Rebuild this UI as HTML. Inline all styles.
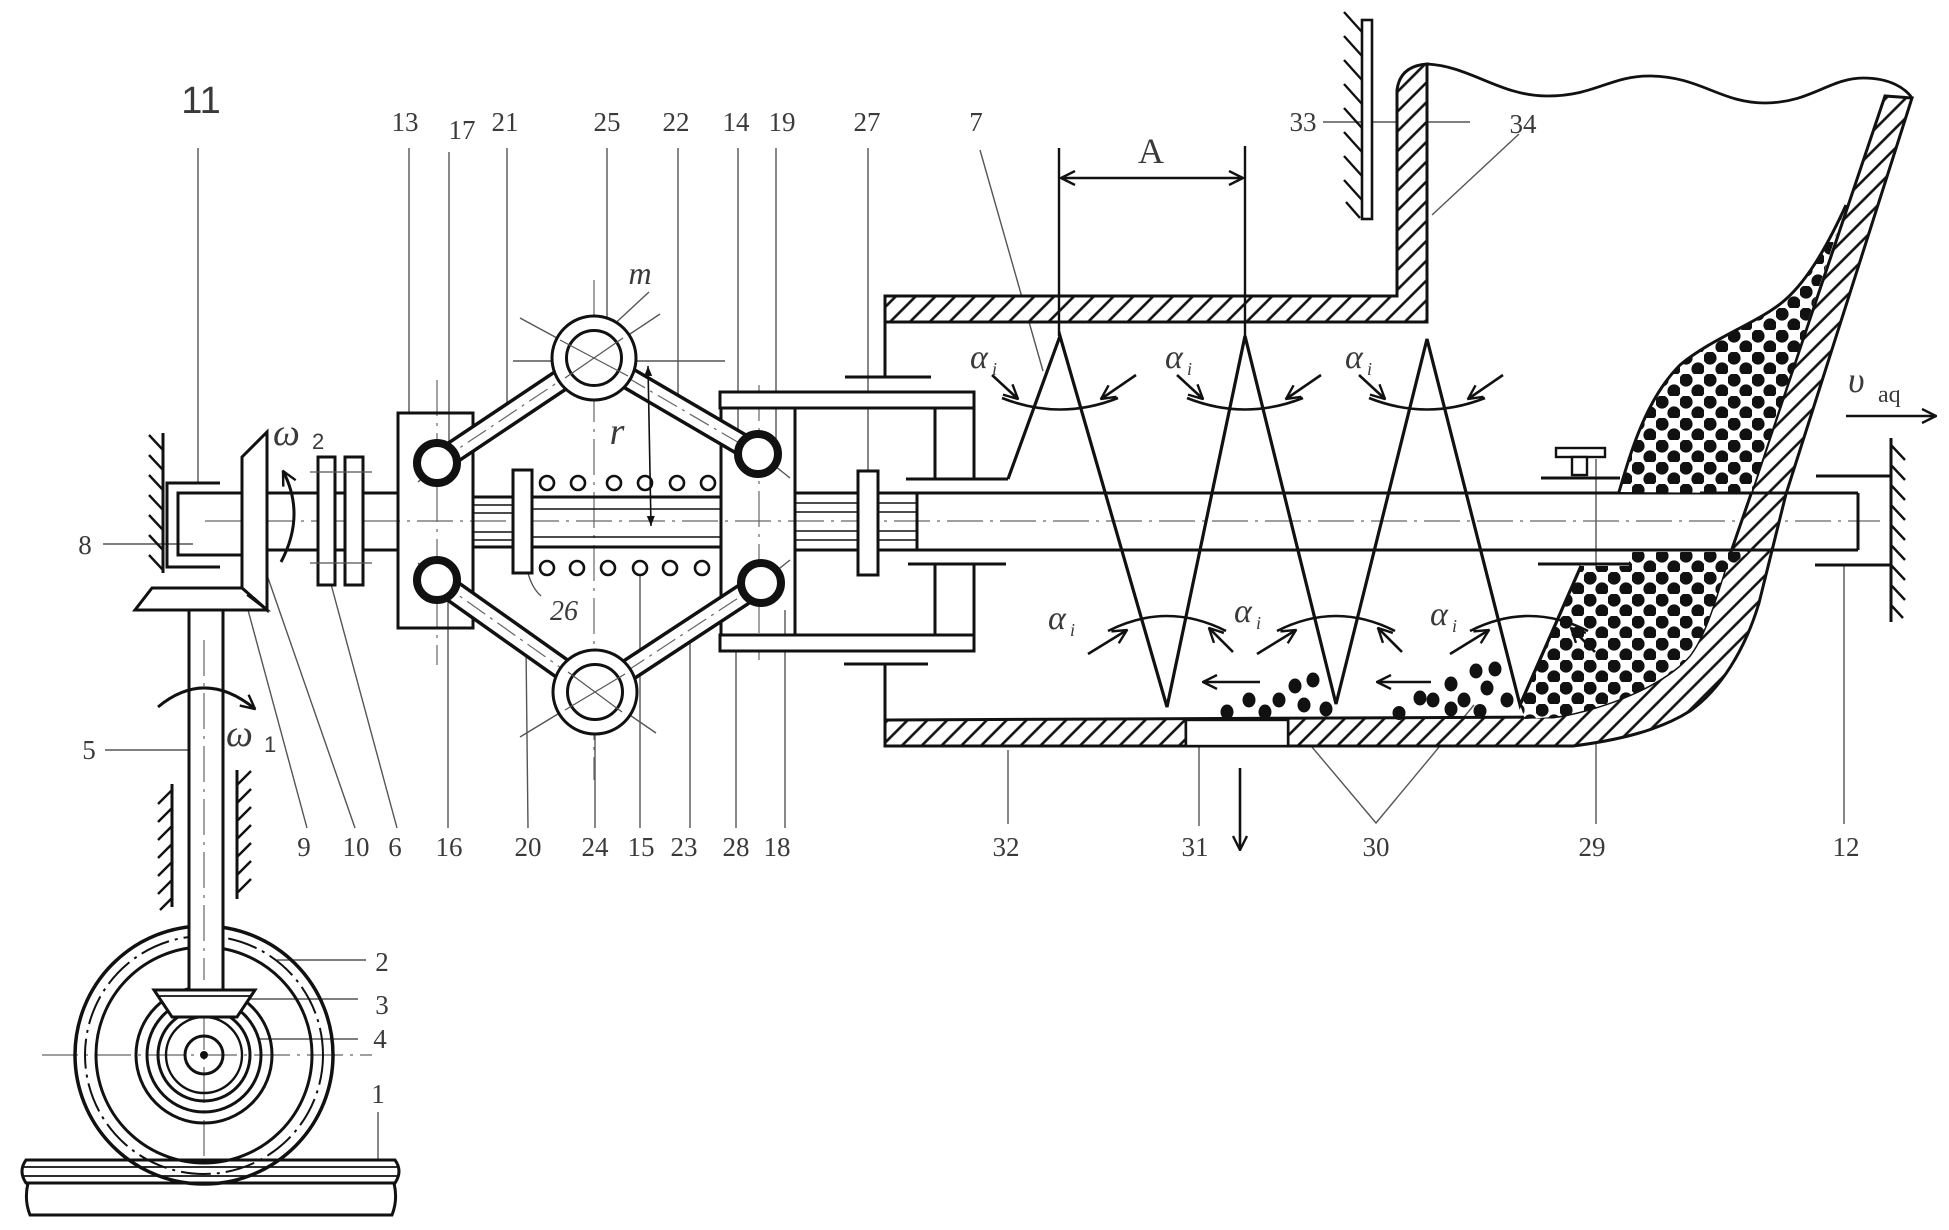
<!DOCTYPE html>
<html><head><meta charset="utf-8"><style>
html,body{margin:0;padding:0;background:#fff;}
svg{display:block;}
text{font-family:"Liberation Serif",serif;fill:#3a3a3a;}
</style></head><body>
<svg width="1949" height="1230" viewBox="0 0 1949 1230" xmlns="http://www.w3.org/2000/svg">
<defs>
<pattern id="h" patternUnits="userSpaceOnUse" width="14" height="14" patternTransform="rotate(45)"><rect width="14" height="14" fill="#fff"/><line x1="3" y1="-2" x2="3" y2="16" stroke="#111" stroke-width="2.6"/></pattern>
<pattern id="d" patternUnits="userSpaceOnUse" width="24" height="22"><rect width="24" height="22" fill="#fff"/><circle cx="6" cy="6" r="6.6" fill="#111"/><circle cx="18" cy="17" r="6.6" fill="#111"/></pattern>
<marker id="a" viewBox="0 0 16 16" refX="15" refY="8" markerWidth="16" markerHeight="16" markerUnits="userSpaceOnUse" orient="auto-start-reverse"><path d="M1,1 L15,8 L1,15" fill="none" stroke="#111" stroke-width="2.4"/></marker>
<marker id="s" viewBox="0 0 12 12" refX="11" refY="6" markerWidth="12" markerHeight="12" markerUnits="userSpaceOnUse" orient="auto-start-reverse"><path d="M1,2 L11,6 L1,10 Z" fill="#111"/></marker>
</defs>

<!-- thin leaders -->
<g stroke="#555" stroke-width="1.4" fill="none">
<line x1="198" y1="148" x2="198" y2="483"/>
<line x1="409" y1="148" x2="409" y2="413"/>
<line x1="449" y1="152" x2="449" y2="455"/>
<line x1="507" y1="148" x2="507" y2="420"/>
<line x1="607" y1="148" x2="607" y2="318"/>
<line x1="678" y1="148" x2="678" y2="413"/>
<line x1="738" y1="148" x2="738" y2="440"/>
<line x1="776" y1="148" x2="776" y2="460"/>
<line x1="868" y1="148" x2="868" y2="473"/>
<line x1="980" y1="150" x2="1043" y2="371"/>
<line x1="1323" y1="122" x2="1470" y2="122"/>
<line x1="1519" y1="134" x2="1432" y2="215"/>
<line x1="103" y1="544" x2="193" y2="544"/>
<line x1="105" y1="750" x2="196" y2="750"/>
<line x1="277" y1="960" x2="366" y2="960"/>
<line x1="221" y1="999" x2="358" y2="999"/>
<line x1="259" y1="1039" x2="358" y2="1039"/>
<line x1="378" y1="1112" x2="378" y2="1171"/>
<line x1="307" y1="828" x2="248" y2="610"/>
<line x1="355" y1="828" x2="267" y2="575"/>
<line x1="397" y1="828" x2="325" y2="562"/>
<line x1="448" y1="828" x2="448" y2="582"/>
<line x1="528" y1="828" x2="526" y2="646"/>
<line x1="595" y1="828" x2="595" y2="709"/>
<line x1="640" y1="828" x2="640" y2="575"/>
<line x1="690" y1="828" x2="690" y2="636"/>
<line x1="736" y1="828" x2="736" y2="651"/>
<line x1="785" y1="828" x2="785" y2="610"/>
<line x1="1008" y1="750" x2="1008" y2="824"/>
<line x1="1199" y1="736" x2="1199" y2="826"/>
<polyline points="1301,734 1376,823 1474,705"/>
<line x1="1596" y1="459" x2="1596" y2="824"/>
<line x1="1844" y1="565" x2="1844" y2="824"/>
<line x1="649" y1="292" x2="608" y2="330"/>
<path d="M528,573 Q532,588 541,596"/>
<line x1="520" y1="318" x2="668" y2="398"/>
<line x1="528" y1="402" x2="660" y2="314"/>
<line x1="513" y1="361" x2="725" y2="361"/>
<line x1="520" y1="737" x2="670" y2="646"/>
<line x1="535" y1="650" x2="656" y2="733"/>
<line x1="418" y1="482" x2="458" y2="446"/>
<line x1="418" y1="563" x2="458" y2="600"/>
<line x1="740" y1="438" x2="790" y2="478"/>
<line x1="740" y1="600" x2="790" y2="560"/>
</g>

<!-- centerlines -->
<g stroke="#666" stroke-width="1.2" fill="none" stroke-dasharray="36 7 3 7">
<line x1="205" y1="521" x2="1880" y2="521"/>
<line x1="204" y1="590" x2="204" y2="1185"/>
<line x1="42" y1="1055" x2="372" y2="1055"/>
<line x1="437" y1="380" x2="437" y2="665"/>
<line x1="759" y1="385" x2="759" y2="660"/>
<line x1="594" y1="280" x2="594" y2="780"/>
</g>

<g stroke="#111" stroke-width="3" fill="none" stroke-linejoin="miter">
<!-- rail -->
<path d="M26,1160 L395,1160 Q403,1171 395,1183 L26,1183 Q18,1171 26,1160 Z" fill="#fff"/>
<line x1="24" y1="1167" x2="397" y2="1167" stroke-width="1.8"/>
<line x1="24" y1="1176" x2="397" y2="1176" stroke-width="1.8"/>
<path d="M28,1183 Q24,1200 30,1215 L392,1215 Q398,1200 394,1183"/>

<!-- wheel -->
<circle cx="204" cy="1055" r="129" stroke-width="3.5"/>
<circle cx="204" cy="1055" r="119" stroke-width="2" stroke-dasharray="30 6 3 6"/>
<circle cx="204" cy="1055" r="108"/>
<circle cx="204" cy="1055" r="68"/>
<circle cx="204" cy="1055" r="57"/>
<circle cx="204" cy="1055" r="46"/>
<circle cx="204" cy="1055" r="38" stroke-width="2.4"/>
<circle cx="204" cy="1055" r="19"/>
<circle cx="204" cy="1055" r="2.5" fill="#111"/>

<!-- shaft 5 -->
<rect x="189" y="608" width="34" height="382" fill="#fff" stroke="none"/>
<line x1="189" y1="610" x2="189" y2="990"/>
<line x1="223" y1="610" x2="223" y2="990"/>
<line x1="204" y1="640" x2="204" y2="980" stroke="#666" stroke-width="1.2" stroke-dasharray="36 7 3 7"/>
<polygon points="154,990 255,990 237,1017 172,1017" fill="#fff"/>
<line x1="157" y1="996" x2="252" y2="996" stroke-width="1.8"/>

<!-- supports of shaft 5 -->
<line x1="172" y1="784" x2="172" y2="907"/>
<line x1="237" y1="770" x2="237" y2="899"/>
<path d="M172,790 l-14,14 M172,808 l-14,14 M172,826 l-14,14 M172,844 l-14,14 M172,862 l-14,14 M172,880 l-14,14 M172,898 l-12,12" stroke-width="2.4"/>
<path d="M237,785 l14,-14 M237,803 l14,-14 M237,821 l14,-14 M237,839 l14,-14 M237,857 l14,-14 M237,875 l14,-14 M237,893 l14,-14" stroke-width="2.4"/>

<!-- ω1 arrow -->
<path d="M158,707 Q205,668 255,709" marker-end="url(#a)"/>

<!-- wall 8 -->
<line x1="163" y1="433" x2="163" y2="573"/>
<path d="M149,435 l14,15 M149,455 l14,15 M149,475 l14,15 M149,495 l14,15 M149,515 l14,15 M149,535 l14,15 M149,555 l14,15" stroke-width="2.4"/>
<polyline points="220,483 167,483 167,567 220,567"/>
<polyline points="242,493 178,493 178,555 242,555"/>

<!-- gears -->
<polygon points="242,457 267,432 267,610 242,588" fill="#fff"/>
<polygon points="152,588 242,588 267,610 135,610" fill="#fff"/>
<line x1="247" y1="595" x2="264" y2="608" stroke-width="2"/>

<!-- shaft to block 13 -->
<line x1="267" y1="493" x2="398" y2="493"/>
<line x1="267" y1="550" x2="398" y2="550"/>
<path d="M281,562 Q306,515 283,471" marker-end="url(#a)"/>
<!-- coupling 6 -->
<rect x="318" y="457" width="17" height="128" fill="#fff"/>
<rect x="345" y="457" width="18" height="128" fill="#fff"/>
<line x1="310" y1="472" x2="372" y2="472" stroke="#555" stroke-width="1.3"/>
<line x1="310" y1="563" x2="372" y2="563" stroke="#555" stroke-width="1.3"/>

<!-- block 13 -->
<rect x="398" y="413" width="75" height="215"/>
<!-- rod -->
<line x1="473" y1="497" x2="721" y2="497"/>
<line x1="473" y1="547" x2="721" y2="547"/>
<g stroke-width="1.6">
<line x1="473" y1="505" x2="513" y2="505"/>
<line x1="473" y1="513" x2="513" y2="513"/>
<line x1="473" y1="532" x2="513" y2="532"/>
<line x1="473" y1="540" x2="513" y2="540"/>
<line x1="532" y1="509" x2="721" y2="509"/>
<line x1="532" y1="537" x2="721" y2="537"/>
</g>
<rect x="513" y="470" width="19" height="103" fill="#fff"/>
<!-- springs -->
<g stroke-width="2.6" fill="#fff">
<circle cx="547" cy="483" r="7"/><circle cx="578" cy="483" r="7"/><circle cx="614" cy="483" r="7"/><circle cx="645" cy="483" r="7"/><circle cx="677" cy="483" r="7"/><circle cx="708" cy="483" r="7"/>
<circle cx="547" cy="568" r="7"/><circle cx="577" cy="568" r="7"/><circle cx="608" cy="568" r="7"/><circle cx="640" cy="568" r="7"/><circle cx="670" cy="568" r="7"/><circle cx="702" cy="568" r="7"/>
</g>

<!-- block 14 & sleeve -->
<rect x="721" y="408" width="74" height="227"/>
<rect x="720" y="392" width="254" height="16" fill="#fff"/>
<rect x="720" y="635" width="254" height="16" fill="#fff"/>
<line x1="935" y1="408" x2="935" y2="479"/>
<line x1="974" y1="408" x2="974" y2="479"/>
<line x1="935" y1="564" x2="935" y2="635"/>
<line x1="974" y1="564" x2="974" y2="635"/>
<line x1="906" y1="479" x2="1008" y2="479"/>
<line x1="908" y1="564" x2="1006" y2="564"/>
<line x1="845" y1="377" x2="931" y2="377"/>
<line x1="844" y1="664" x2="928" y2="664"/>
<line x1="885" y1="296" x2="885" y2="377"/>
<line x1="885" y1="664" x2="885" y2="746"/>

<!-- main shaft -->
<line x1="795" y1="493" x2="1858" y2="493"/>
<line x1="795" y1="550" x2="1858" y2="550"/>
<line x1="917" y1="493" x2="917" y2="550"/>
<line x1="1858" y1="493" x2="1858" y2="550"/>
<g stroke-width="1.5">
<line x1="795" y1="503" x2="917" y2="503"/>
<line x1="795" y1="512" x2="917" y2="512"/>
<line x1="795" y1="531" x2="917" y2="531"/>
<line x1="795" y1="540" x2="917" y2="540"/>
</g>
<rect x="858" y="471" width="20" height="104" fill="#fff"/>

<!-- linkage bars -->
<g stroke-linecap="butt">
<line x1="437" y1="463" x2="594" y2="358" stroke-width="24"/>
<line x1="594" y1="358" x2="758" y2="454" stroke-width="24"/>
<line x1="437" y1="580" x2="595" y2="692" stroke-width="24"/>
<line x1="595" y1="692" x2="761" y2="583" stroke-width="24"/>
<line x1="437" y1="463" x2="594" y2="358" stroke-width="17" stroke="#fff"/>
<line x1="594" y1="358" x2="758" y2="454" stroke-width="17" stroke="#fff"/>
<line x1="437" y1="580" x2="595" y2="692" stroke-width="17" stroke="#fff"/>
<line x1="595" y1="692" x2="761" y2="583" stroke-width="17" stroke="#fff"/>
</g>
<g stroke="#666" stroke-width="1.2" stroke-dasharray="22 6 3 6">
<line x1="437" y1="463" x2="594" y2="358"/>
<line x1="594" y1="358" x2="758" y2="454"/>
<line x1="437" y1="580" x2="595" y2="692"/>
<line x1="595" y1="692" x2="761" y2="583"/>
</g>
<!-- rings -->
<circle cx="594" cy="358" r="42" fill="#fff"/>
<circle cx="594" cy="358" r="27.5"/>
<circle cx="595" cy="692" r="42" fill="#fff"/>
<circle cx="595" cy="692" r="27.5"/>
<g stroke-width="8" fill="#fff">
<circle cx="437" cy="463" r="20"/>
<circle cx="437" cy="580" r="20"/>
<circle cx="758" cy="454" r="20"/>
<circle cx="761" cy="583" r="20"/>
</g>
<g stroke="#555" stroke-width="1.2">
<line x1="560" y1="340" x2="628" y2="376"/>
<line x1="565" y1="378" x2="623" y2="338"/>
<line x1="565" y1="710" x2="625" y2="674"/>
<line x1="568" y1="672" x2="622" y2="712"/>
</g>
<!-- r dimension -->
<line x1="648" y1="366" x2="651" y2="526" stroke-width="1.6" marker-start="url(#s)" marker-end="url(#s)"/>

<!-- housing hatched -->
<path d="M885,296 L1397,296 L1397,90 Q1400,66 1427,64 L1427,322 L885,322 Z" fill="url(#h)"/>
<path d="M885,720 L1553,717 C1590,712 1660,690 1690,655 C1705,635 1715,600 1724,572 L1751,494 L1885,96 L1912,98 L1786,494 L1759,603 C1745,650 1720,690 1690,711 C1660,730 1620,740 1573,746 L885,746 Z" fill="url(#h)"/>
<rect x="1186" y="720" width="102" height="26" fill="#fff"/>
<path d="M1427,64 C1470,66 1500,96 1547,96 C1595,96 1610,76 1649,76 C1700,76 1720,103 1765,103 C1810,103 1830,78 1863,78 C1890,78 1905,88 1912,98" stroke-width="2.8"/>

<!-- particles -->
<path d="M1619,492 C1630,455 1645,400 1680,365 C1712,338 1760,322 1785,300 C1810,278 1830,240 1846,205 L1751,493 Z" fill="url(#d)" stroke="none"/>
<path d="M1619,492 C1630,455 1645,400 1680,365 C1712,338 1760,322 1785,300 C1810,278 1830,240 1846,205"/>
<path d="M1520,705 L1581,566 L1629,566 L1629,552 L1748,552 L1724,572 C1715,600 1705,635 1690,655 C1660,690 1590,712 1553,717 L1525,719 Z" fill="url(#d)" stroke="none"/>
<g fill="#111" stroke="none">
<ellipse cx="1227" cy="712" rx="6.5" ry="7.5"/><ellipse cx="1249" cy="700" rx="6.5" ry="7.5"/><ellipse cx="1265" cy="712" rx="6.5" ry="7.5"/><ellipse cx="1279" cy="700" rx="6.5" ry="7.5"/><ellipse cx="1295" cy="686" rx="6.5" ry="7.5"/><ellipse cx="1313" cy="680" rx="6.5" ry="7.5"/><ellipse cx="1304" cy="705" rx="6.5" ry="7.5"/><ellipse cx="1326" cy="709" rx="6.5" ry="7.5"/>
<ellipse cx="1399" cy="713" rx="6.5" ry="7"/><ellipse cx="1420" cy="698" rx="6.5" ry="7.5"/><ellipse cx="1433" cy="700" rx="6.5" ry="7.5"/><ellipse cx="1451" cy="684" rx="6.5" ry="7.5"/><ellipse cx="1451" cy="709" rx="6.5" ry="7.5"/><ellipse cx="1464" cy="700" rx="6.5" ry="7.5"/><ellipse cx="1476" cy="671" rx="6.5" ry="7.5"/><ellipse cx="1495" cy="669" rx="6.5" ry="7.5"/><ellipse cx="1487" cy="688" rx="6.5" ry="7.5"/><ellipse cx="1480" cy="711" rx="6.5" ry="7"/><ellipse cx="1507" cy="700" rx="6.5" ry="7.5"/>
</g>
<rect x="1186" y="720" width="102" height="26" fill="#fff" stroke-width="2.4"/>

<!-- re-draw shaft lines over hatch -->
<line x1="1700" y1="493" x2="1858" y2="493"/>
<line x1="1700" y1="550" x2="1858" y2="550"/>

<!-- bearings 29, 12 -->
<line x1="1541" y1="478" x2="1620" y2="478"/>
<rect x="1556" y="448" width="49" height="9" fill="#fff" stroke-width="2.4"/>
<rect x="1572" y="457" width="15" height="18" fill="#fff" stroke-width="2.4"/>
<line x1="1538" y1="564" x2="1629" y2="564"/>
<line x1="1816" y1="476" x2="1891" y2="476"/>
<line x1="1815" y1="565" x2="1891" y2="565"/>
<line x1="1891" y1="438" x2="1891" y2="622"/>
<path d="M1891,445 l14,15 M1891,465 l14,15 M1891,485 l14,15 M1891,505 l14,15 M1891,525 l14,15 M1891,545 l14,15 M1891,565 l14,15 M1891,585 l14,15 M1891,605 l12,13" stroke-width="2.4"/>

<!-- item 33 -->
<rect x="1362" y="20" width="10" height="199" fill="#fff" stroke-width="2.6"/>
<path d="M1344,12 l18,20 M1344,36 l18,20 M1344,60 l18,20 M1344,84 l18,20 M1344,108 l18,20 M1344,132 l18,20 M1344,156 l18,20 M1344,180 l18,20 M1346,202 l14,16" stroke-width="2.4"/>

<!-- screw flight -->
<polyline points="1008,479 1060,336 1167,707 1245,336 1336,704 1427,339 1520,705 1581,566" stroke-width="3.2"/>

<!-- dimension A -->
<line x1="1059" y1="148" x2="1059" y2="336" stroke-width="2.4"/>
<line x1="1245" y1="146" x2="1245" y2="336" stroke-width="2.4"/>
<line x1="1061" y1="178" x2="1243" y2="178" stroke-width="2.4" marker-start="url(#a)" marker-end="url(#a)"/>

<!-- alpha arcs upper -->
<g stroke-width="2.6">
<path d="M1002,398 Q1060,421 1118,398"/>
<line x1="992" y1="375" x2="1018" y2="399" marker-end="url(#a)"/>
<line x1="1136" y1="375" x2="1101" y2="399" marker-end="url(#a)"/>
<path d="M1187,398 Q1245,421 1303,398"/>
<line x1="1177" y1="375" x2="1203" y2="399" marker-end="url(#a)"/>
<line x1="1321" y1="375" x2="1286" y2="399" marker-end="url(#a)"/>
<path d="M1369,398 Q1427,421 1485,398"/>
<line x1="1359" y1="375" x2="1385" y2="399" marker-end="url(#a)"/>
<line x1="1503" y1="375" x2="1468" y2="399" marker-end="url(#a)"/>
<!-- lower -->
<path d="M1108,631 Q1167,601 1226,631"/>
<line x1="1088" y1="654" x2="1127" y2="630" marker-end="url(#a)"/>
<line x1="1233" y1="652" x2="1209" y2="628" marker-end="url(#a)"/>
<path d="M1277,631 Q1336,601 1395,631"/>
<line x1="1257" y1="654" x2="1296" y2="630" marker-end="url(#a)"/>
<line x1="1402" y1="652" x2="1378" y2="628" marker-end="url(#a)"/>
<path d="M1470,631 Q1529,601 1588,631"/>
<line x1="1450" y1="654" x2="1489" y2="630" marker-end="url(#a)"/>
<line x1="1595" y1="652" x2="1571" y2="628" marker-end="url(#a)"/>
</g>

<!-- flow arrows -->
<line x1="1260" y1="682" x2="1203" y2="682" stroke-width="2.6" marker-end="url(#a)"/>
<line x1="1431" y1="682" x2="1377" y2="682" stroke-width="2.6" marker-end="url(#a)"/>
<line x1="1240" y1="768" x2="1240" y2="850" stroke-width="2.6" marker-end="url(#a)"/>
<line x1="1846" y1="416" x2="1936" y2="416" stroke-width="2.6" marker-end="url(#a)"/>
</g>

<!-- labels -->
<g font-size="27" text-anchor="middle">
<text x="405" y="131">13</text>
<text x="462" y="139">17</text>
<text x="505" y="131">21</text>
<text x="607" y="131">25</text>
<text x="676" y="131">22</text>
<text x="736" y="131">14</text>
<text x="782" y="131">19</text>
<text x="867" y="131">27</text>
<text x="976" y="131">7</text>
<text x="1303" y="131">33</text>
<text x="1523" y="133">34</text>
<text x="304" y="856">9</text>
<text x="356" y="856">10</text>
<text x="395" y="856">6</text>
<text x="449" y="856">16</text>
<text x="528" y="856">20</text>
<text x="595" y="856">24</text>
<text x="641" y="856">15</text>
<text x="684" y="856">23</text>
<text x="736" y="856">28</text>
<text x="777" y="856">18</text>
<text x="1006" y="856">32</text>
<text x="1195" y="856">31</text>
<text x="1376" y="856">30</text>
<text x="1592" y="856">29</text>
<text x="1846" y="856">12</text>
<text x="85" y="554">8</text>
<text x="89" y="759">5</text>
<text x="382" y="971">2</text>
<text x="382" y="1014">3</text>
<text x="380" y="1048">4</text>
<text x="378" y="1103">1</text>
</g>
<text x="201" y="113" font-size="38" text-anchor="middle" style="font-family:'Liberation Sans',sans-serif">11</text>
<text x="1151" y="163" font-size="36" text-anchor="middle" fill="#222">A</text>
<text x="564" y="620" font-size="28" font-style="italic" text-anchor="middle" fill="#222">26</text>
<text x="640" y="284" font-size="32" font-style="italic" text-anchor="middle" fill="#222">m</text>
<text x="617" y="444" font-size="38" font-style="italic" text-anchor="middle" fill="#222">r</text>
<g fill="#222">
<text x="273" y="445" font-size="38" font-style="italic">ω</text>
<text x="312" y="449" font-size="22" style="font-family:'Liberation Sans',sans-serif">2</text>
<text x="226" y="746" font-size="38" font-style="italic">ω</text>
<text x="264" y="752" font-size="22" style="font-family:'Liberation Sans',sans-serif">1</text>
<text x="1848" y="392" font-size="36" font-style="italic">υ</text>
<text x="1878" y="402" font-size="24">aq</text>
</g>
<g fill="#222" font-style="italic">
<text x="970" y="368" font-size="34">α</text><text x="992" y="375" font-size="18">i</text>
<text x="1165" y="368" font-size="34">α</text><text x="1187" y="375" font-size="18">i</text>
<text x="1345" y="368" font-size="34">α</text><text x="1367" y="375" font-size="18">i</text>
<text x="1048" y="629" font-size="34">α</text><text x="1070" y="636" font-size="18">i</text>
<text x="1234" y="622" font-size="34">α</text><text x="1256" y="629" font-size="18">i</text>
<text x="1430" y="625" font-size="34">α</text><text x="1452" y="632" font-size="18">i</text>
</g>
</svg>
</body></html>
